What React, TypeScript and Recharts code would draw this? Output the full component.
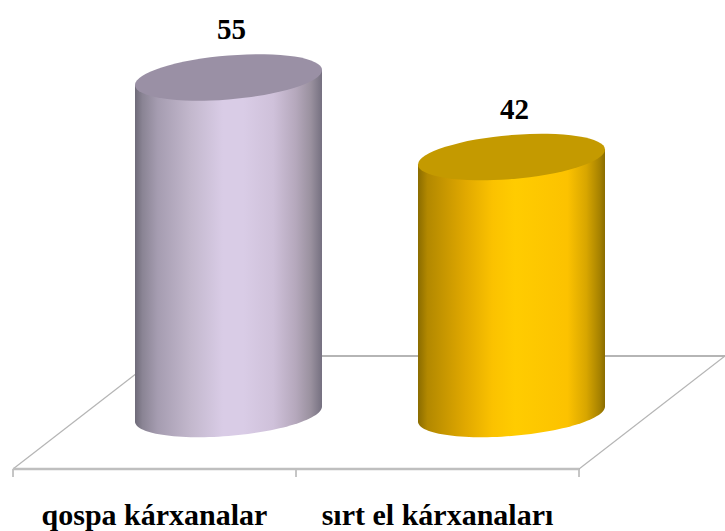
import { BarChart, Bar, XAxis, YAxis, LabelList, usePlotArea } from 'recharts';

const categories = ['qospa kárxanalar', 'sırt el kárxanaları'];
const values = [55, 42];

const data = categories.map((name, i) => ({ name, value: values[i] }));

// 3D look: the cylinders stand on a floor that is shifted back from the axis
const SHIFT_X = 74;
const SHIFT_Y = -55;
const TILT = 7.5;
const MINOR = 22;
const FLOOR_DX = 146;
const FLOOR_DY = -113;
const FONT = '"Liberation Serif", serif';

const palettes = [
  {
    top: '#9a90a5',
    stops: [
      ['0%', '#6e6a78'],
      ['4%', '#8a8494'],
      ['12%', '#a59cb0'],
      ['30%', '#c3b8cd'],
      ['47%', '#d9cce6'],
      ['58%', '#d9cce6'],
      ['74%', '#cfc1da'],
      ['86%', '#b5a8bc'],
      ['94%', '#9a919f'],
      ['100%', '#757080'],
    ],
  },
  {
    top: '#c49a00',
    stops: [
      ['0%', '#8a6c00'],
      ['5%', '#b28800'],
      ['25%', '#e0a800'],
      ['40%', '#fbc200'],
      ['52%', '#ffcc00'],
      ['80%', '#fcc200'],
      ['90%', '#d8a600'],
      ['97%', '#a88300'],
      ['100%', '#8a6c00'],
    ],
  },
];

const rimPoint = (cx: number, cy: number, a: number, t: number) =>
  `${cx + a * Math.cos(t)},${cy - TILT * Math.cos(t) + MINOR * Math.sin(t)}`;

const Cylinder = (props: any) => {
  const { x, y, width, height, index } = props;
  const p = palettes[index];
  const a = width / 2;
  const cx = x + a + SHIFT_X;
  const topY = y + SHIFT_Y;
  const botY = y + height + SHIFT_Y;
  const lower: string[] = [];
  for (let i = 0; i <= 60; i++) {
    lower.push(rimPoint(cx, botY, a, Math.PI - (i / 60) * Math.PI));
  }
  const body = `${cx - a},${topY + TILT} ${lower.join(' ')} ${cx + a},${topY - TILT}`;
  return (
    <g>
      <defs>
        <linearGradient id={`body${index}`} x1="0" y1="0" x2="1" y2="0">
          {p.stops.map(([offset, color]) => (
            <stop key={offset} offset={offset} stopColor={color} />
          ))}
        </linearGradient>
      </defs>
      <polygon points={body} fill={`url(#body${index})`} />
      <ellipse
        cx={0}
        cy={0}
        rx={1}
        ry={1}
        fill={p.top}
        transform={`matrix(${a} ${-TILT} 0 ${MINOR} ${cx} ${topY})`}
      />
    </g>
  );
};

const Floor = () => {
  const plot = usePlotArea();
  if (!plot) return null;
  const left = plot.x;
  const right = plot.x + plot.width;
  const bottom = plot.y + plot.height;
  const back = bottom + FLOOR_DY;
  return (
    <g fill="none">
      <line x1={left} y1={bottom} x2={left + FLOOR_DX} y2={back} stroke="#b5b5b5" strokeWidth={1.2} />
      <line x1={left + FLOOR_DX} y1={back} x2={right + FLOOR_DX} y2={back} stroke="#b5b5b5" strokeWidth={2} />
      <line x1={right} y1={bottom} x2={right + FLOOR_DX} y2={back} stroke="#b5b5b5" strokeWidth={1.2} />
      {[left, left + plot.width / 2, right].map((tx) => (
        <line key={tx} x1={tx} y1={bottom} x2={tx} y2={bottom + 8} stroke="#8c8c8c" strokeWidth={1} />
      ))}
    </g>
  );
};

const ValueLabel = (props: any) => {
  const { x, y, width, value } = props;
  return (
    <text
      x={x + width / 2 + SHIFT_X + 3}
      y={y + SHIFT_Y - 38}
      textAnchor="middle"
      fontFamily={FONT}
      fontWeight="bold"
      fontSize={29}
      fill="#000"
    >
      {value}
    </text>
  );
};

export default function App() {
  return (
    <div style={{ position: 'absolute', left: 0, top: 0, width: 725, height: 531, background: '#fff' }}>
      <BarChart
        width={725}
        height={531}
        data={data}
        margin={{ top: 40.7, right: 146, bottom: 0, left: 13 }}
        barCategoryGap={0}
      >
        <Floor />
        <XAxis
          dataKey="name"
          height={62}
          interval={0}
          axisLine={{ stroke: '#bfbfbf', strokeWidth: 2.5 }}
          tickLine={false}
          tickMargin={29}
          tick={{ fontFamily: FONT, fontWeight: 'bold', fontSize: 30, fill: '#000' }}
        />
        <YAxis hide domain={[0, 70]} />
        <Bar dataKey="value" barSize={187} shape={Cylinder} isAnimationActive={false}>
          <LabelList dataKey="value" content={ValueLabel} />
        </Bar>
      </BarChart>
    </div>
  );
}
